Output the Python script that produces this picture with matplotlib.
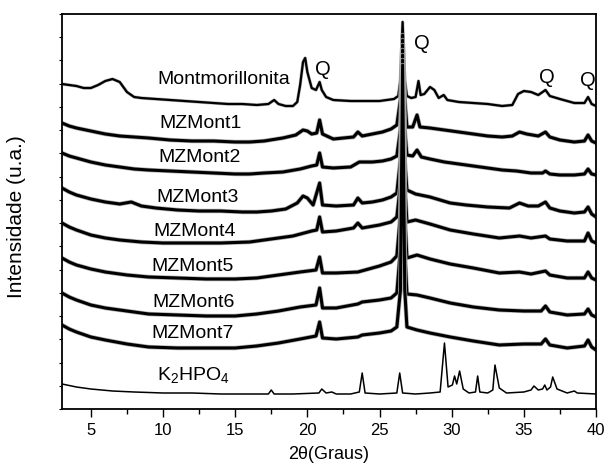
import matplotlib
matplotlib.use('Agg')
import matplotlib.pyplot as plt
from matplotlib.ticker import MultipleLocator

plt.rcParams['font.family'] = ['Liberation Sans', 'DejaVu Sans']
plt.rcParams['mathtext.default'] = 'regular'

####################################################################################################
# difratogramas (intensidade em u.a., curvas ja deslocadas)

mont_x = [3.0, 3.5, 4.0, 4.5, 5.0, 5.5, 6.0, 6.5, 7.0, 7.5, 8.0, 8.5, 9.5, 10.5, 11.5, 12.5, 13.5,
          14.5, 15.5, 16.5, 17.3, 17.7, 18.0, 18.5, 19.0, 19.3, 19.5, 19.7, 19.85, 20.0, 20.3, 20.6,
          20.85, 21.0, 21.3, 21.8, 23.0, 24.0, 25.0, 26.0, 26.3, 26.45, 26.6, 26.75, 26.9, 27.2, 27.5,
          27.7, 27.85, 28.1, 28.5, 28.8, 29.1, 29.45, 29.7, 30.5, 31.5, 32.5, 33.5, 34.2, 34.6, 35.0,
          35.5, 36.0, 36.5, 36.8, 37.5, 38.5, 39.2, 39.45, 39.7, 40.0]
mont_y = [325, 324, 323, 321, 321, 324, 328, 330, 327, 317, 312, 311, 310, 309, 308, 307, 306,
          305, 305, 304, 305, 309, 305, 303, 303, 307, 324, 347, 351, 337, 321, 319,
          327, 319, 312, 309, 308, 308, 308, 310, 313, 329, 387, 329, 313, 311, 312,
          328, 314, 315, 322, 319, 311, 314, 309, 307, 306, 305, 303, 304, 315, 318,
          317, 314, 319, 313, 310, 306, 306, 312, 305, 303]

mz1_x = [3.0, 3.5, 4.0, 5.0, 6.0, 7.0, 8.0, 9.0, 10.5, 12.0, 13.5, 15.0, 16.0, 17.0, 18.3, 19.2,
         19.7, 20.0, 20.3, 20.65, 20.85, 21.05, 21.8, 22.5, 23.2, 23.5, 23.8, 24.5, 25.2, 25.8, 26.2,
         26.45, 26.6, 26.75, 26.9, 27.3, 27.6, 27.8, 28.5, 29.5, 30.5, 31.5, 32.5, 33.5, 34.2, 34.7,
         35.2, 36.0, 36.5, 36.8, 37.5, 38.5, 39.2, 39.45, 39.7, 40.0]
mz1_y = [286, 283, 281, 278, 275, 273, 272, 271, 269, 268, 268, 267, 267, 268, 271, 274,
         279, 278, 275, 276, 289, 275, 270, 271, 272, 277, 273, 275, 277, 280, 284,
         309, 374, 309, 282, 282, 294, 282, 281, 279, 277, 275, 273, 272, 273, 277,
         275, 273, 277, 272, 269, 267, 268, 274, 268, 266]

mz2_x = [3.0, 3.5, 4.0, 5.0, 6.0, 7.0, 8.0, 9.0, 10.5, 12.0, 13.5, 15.0, 16.0, 17.0, 18.3, 19.5,
         20.3, 20.65, 20.85, 21.05, 21.8, 23.0, 23.6, 24.5, 25.2, 25.8, 26.2, 26.45, 26.6, 26.75,
         26.9, 27.3, 27.6, 27.9, 28.5, 29.5, 30.5, 31.5, 32.5, 33.5, 34.5, 35.5, 36.3, 36.5, 36.8,
         37.5, 38.5, 39.2, 39.45, 39.7, 40.0]
mz2_y = [256, 253, 251, 247, 244, 242, 240, 239, 238, 237, 236, 235, 235, 236, 237, 240,
         243, 244, 256, 242, 241, 242, 247, 247, 248, 250, 253, 279, 369, 279,
         254, 253, 259, 252, 250, 247, 245, 243, 241, 239, 238, 236, 236, 238, 235,
         234, 234, 235, 240, 235, 234]

mz3_x = [3.0, 3.5, 4.0, 5.0, 6.0, 7.0, 7.8, 8.5, 9.5, 11.0, 12.5, 14.0, 15.5, 16.5, 17.5, 18.5,
         19.3, 19.7, 20.0, 20.4, 20.85, 21.05, 22.0, 23.2, 23.5, 23.8, 24.5, 25.2, 25.8, 26.2,
         26.45, 26.6, 26.75, 26.9, 27.5, 28.5, 29.9, 31.0, 32.5, 34.0, 34.7, 35.3, 36.0, 36.5,
         36.8, 37.5, 38.5, 39.2, 39.45, 39.7, 40.0]
mz3_y = [221, 217, 214, 210, 207, 205, 207, 203, 201, 199, 198, 198, 197, 197, 198, 200,
         206, 213, 211, 204, 226, 204, 203, 204, 211, 206, 207, 209, 212, 216,
         249, 364, 249, 219, 215, 212, 206, 204, 202, 201, 206, 203, 203, 207,
         201, 198, 196, 197, 202, 195, 192]

mz4_x = [3.0, 3.5, 4.0, 5.0, 6.0, 7.0, 8.5, 10.0, 12.0, 14.0, 16.0, 17.5, 19.0, 20.3, 20.65,
         20.85, 21.05, 22.0, 23.2, 23.5, 23.8, 25.0, 25.8, 26.2, 26.45, 26.6, 26.75, 26.9, 27.5,
         28.5, 29.9, 31.5, 33.3, 34.7, 35.5, 36.5, 36.8, 38.0, 39.2, 39.45, 39.7, 40.0]
mz4_y = [186, 182, 179, 174, 171, 169, 167, 166, 166, 166, 167, 170, 173, 178, 179,
         192, 177, 178, 181, 186, 181, 184, 187, 192, 224, 359, 224, 187, 189,
         185, 179, 175, 171, 173, 171, 173, 170, 168, 168, 176, 168, 166]

mz5_x = [3.0, 3.5, 4.0, 5.0, 6.0, 7.5, 9.0, 11.0, 13.0, 15.0, 16.5, 18.0, 19.5, 20.6, 20.85,
         21.05, 22.0, 23.5, 25.0, 25.8, 26.2, 26.45, 26.6, 26.75, 26.9, 27.6, 28.5, 29.9, 31.5,
         33.3, 34.7, 35.5, 36.5, 36.8, 38.0, 39.2, 39.45, 39.7, 40.0]
mz5_y = [151, 147, 144, 140, 137, 134, 132, 131, 130, 130, 131, 134, 137, 139, 152,
         136, 136, 137, 143, 147, 153, 194, 354, 194, 151, 154, 150, 145, 141,
         136, 137, 135, 138, 134, 131, 131, 137, 131, 129]

mz6_x = [3.0, 3.5, 4.0, 5.0, 6.0, 7.5, 9.0, 11.0, 13.0, 15.0, 16.5, 18.0, 19.5, 20.6, 20.85,
         21.05, 22.0, 23.5, 23.8, 25.0, 25.8, 26.2, 26.45, 26.6, 26.75, 26.9, 27.6, 28.5, 29.9,
         31.5, 33.3, 35.0, 36.2, 36.5, 36.8, 38.0, 39.2, 39.45, 39.7, 40.0]
mz6_y = [116, 112, 109, 104, 101, 98, 95, 94, 93, 93, 95, 98, 102, 104, 121,
         101, 101, 105, 107, 109, 111, 116, 159, 349, 159, 115, 114, 111, 106,
         102, 99, 98, 98, 103, 97, 94, 95, 100, 94, 92]

mz7_x = [3.0, 3.5, 4.0, 5.0, 6.0, 7.5, 9.0, 11.0, 13.0, 15.0, 16.5, 18.0, 19.5, 20.6, 20.85,
         21.05, 22.0, 23.5, 23.8, 25.0, 25.8, 26.2, 26.45, 26.6, 26.75, 26.9, 27.6, 28.5, 29.9,
         31.5, 33.3, 35.0, 36.2, 36.5, 36.8, 38.0, 39.2, 39.45, 39.7, 40.0]
mz7_y = [84, 80, 77, 72, 69, 65, 62, 61, 61, 61, 63, 66, 70, 73, 87,
         71, 70, 72, 74, 76, 78, 82, 119, 344, 119, 82, 79, 76, 72,
         68, 64, 65, 65, 70, 64, 61, 63, 69, 62, 59]

k2_x = [3.0, 4.0, 5.0, 6.5, 8.0, 10.0, 12.0, 14.0, 16.0, 17.3, 17.5, 17.7, 19.0, 20.8, 21.0,
        21.3, 21.7, 22.0, 23.0, 23.6, 23.8, 24.0, 25.0, 26.2, 26.4, 26.6, 27.5, 28.5, 29.2,
        29.5, 29.75, 30.05, 30.2, 30.35, 30.55, 30.8, 31.2, 31.65, 31.8, 31.95, 32.5, 32.85,
        33.0, 33.3, 33.8, 35.0, 35.5, 35.7, 36.0, 36.3, 36.45, 36.6, 36.85, 37.0, 37.3, 38.0,
        38.5, 38.7, 40.0]
k2_y = [25, 22, 20, 18, 17, 16, 16, 15, 15, 15, 19, 15, 15, 16, 20,
        16, 17, 15, 15, 17, 36, 16, 15, 16, 36, 16, 15, 16, 17,
        66, 22, 24, 33, 25, 38, 20, 16, 17, 33, 17, 16, 19,
        44, 21, 16, 17, 19, 23, 19, 20, 24, 19, 22, 32, 20, 16,
        18, 16, 15]

nomes = ['Montmorillonita', 'MZMont1', 'MZMont2', 'MZMont3', 'MZMont4', 'MZMont5', 'MZMont6',
         'MZMont7', r'K$_2$HPO$_4$']

####################################################################################################

fig = plt.figure(figsize=(6.06, 4.67), dpi=100)
ax = fig.add_axes([0.1023, 0.1242, 0.8812, 0.8458])

curvas = [(mont_x, mont_y), (mz1_x, mz1_y), (mz2_x, mz2_y), (mz3_x, mz3_y), (mz4_x, mz4_y),
          (mz5_x, mz5_y), (mz6_x, mz6_y), (mz7_x, mz7_y)]
for i, (xx, yy) in enumerate(curvas):
    if i == 0:
        ax.plot(xx, yy, color='#b5b5b5', lw=2.4)
        ax.plot(xx, yy, color='black', lw=1.6)
    else:
        ax.plot(xx, yy, color='#b0b0b0', lw=3.2)
        ax.plot(xx, yy, color='black', lw=2.2)
ax.plot(k2_x, k2_y, color='black', lw=1.1)

# rotulos das curvas
rot_x = [9.62, 9.76, 9.69, 9.55, 9.35, 9.21, 9.28, 9.21, 9.55]
rot_y = [330, 286, 252, 212, 178, 143, 107, 76, 34]
for nome, tx, ty in zip(nomes, rot_x, rot_y):
    ax.text(tx, ty, nome, fontsize=14, ha='left', va='center')

# picos de quartzo
q_x = [21.06, 27.93, 36.6, 39.44]
q_y = [340, 366, 332, 329]
for tx, ty in zip(q_x, q_y):
    ax.text(tx, ty, 'Q', fontsize=14.5, ha='center', va='center')

ax.set_xlim(3, 40)
ax.set_ylim(0, 395)
ax.xaxis.set_major_locator(MultipleLocator(5))
ax.xaxis.set_minor_locator(MultipleLocator(2.5))
ax.yaxis.set_major_locator(MultipleLocator(395 / 17))
ax.tick_params(axis='x', which='major', direction='out', length=6, width=1, labelsize=12, pad=4)
ax.tick_params(axis='x', which='minor', direction='out', length=3.5, width=1)
ax.tick_params(axis='y', which='major', direction='out', length=2.5, width=0.8, labelleft=False)
for s in ax.spines.values():
    s.set_linewidth(1.3)

ax.set_xlabel('2θ(Graus)', fontsize=13, labelpad=6)
ax.set_ylabel('Intensidade (u.a.)', fontsize=15)
ax.yaxis.set_label_coords(-0.067, 0.486)

fig.savefig('out.png', dpi=100)
